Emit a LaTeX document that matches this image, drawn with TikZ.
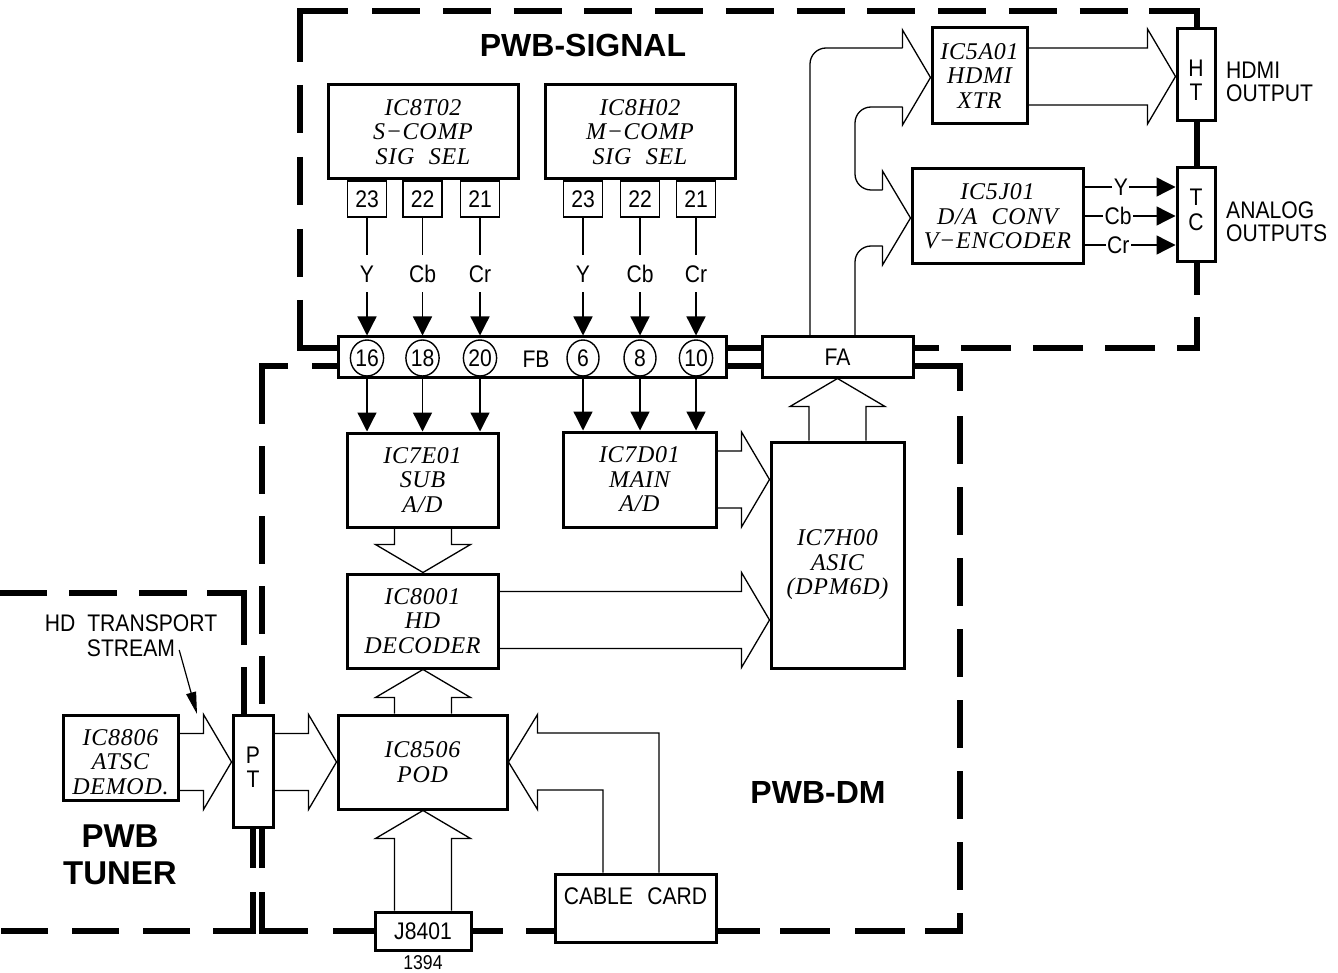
\documentclass[tikz,border=0pt]{standalone}
\usepackage{fontspec}
\setmainfont{Liberation Serif}
\newfontfamily\icf[LetterSpace=3]{Liberation Serif}
\newfontfamily\sxf[FakeStretch=0.88]{Liberation Sans}
\newfontfamily\bsf{Liberation Sans}
\usetikzlibrary{arrows.meta,calc,shapes.geometric}
\tikzset{
 box/.style={draw, line width=3pt, fill=white, inner sep=0pt, align=center, font=\icf\itshape\fontsize{24}{24.5}\selectfont},
 ictext/.style={inner sep=0pt, align=center, font=\icf\itshape\fontsize{24}{24.5}\selectfont},
 sx/.style={inner sep=0pt, align=center, font=\sxf\fontsize{24}{24.5}\selectfont},
 pinbox/.style={draw, line width=1.5pt, fill=white, minimum width=39pt, minimum height=36pt, sx},
 conbox/.style={draw, line width=3pt, fill=white, sx},
 pinc/.style={draw, ellipse, line width=1.4pt, fill=white, minimum width=32pt, minimum height=36pt, sx},
 bold/.style={inner sep=0pt, align=center, font=\bsf\bfseries\fontsize{32}{37}\selectfont},
 barr/.style={line width=1.3pt, line join=miter},
 sig/.style={line width=1.3pt, -{Triangle[length=19pt,width=19pt]}},
 lbl/.style={fill=white, sx, inner xsep=2pt, inner ysep=10pt, text height=17pt, text depth=0pt},
 lblr/.style={fill=white, sx, inner xsep=1.5pt, inner ysep=1pt, text height=17pt, text depth=0pt},
 border/.style={line width=5.5pt, dash pattern=on 48pt off 22pt},
 bsolid/.style={line width=5.5pt},
}
\newcommand\barR[3]{\draw[barr] (#1 |- 0,#3-28.5) -- ($(#2 |- 0,#3)+(-28,-28.5)$) -- ($(#2 |- 0,#3)+(-28,-47.5)$) -- (#2 |- 0,#3) -- ($(#2 |- 0,#3)+(-28,47.5)$) -- ($(#2 |- 0,#3)+(-28,28.5)$) -- (#1 |- 0,#3+28.5);}
\newcommand\barU[3]{\draw[barr] (#3-28.5,0 |- #1) -- ($(#3,0 |- #2)+(-28.5,28)$) -- ($(#3,0 |- #2)+(-47.5,28)$) -- (#3,0 |- #2) -- ($(#3,0 |- #2)+(47.5,28)$) -- ($(#3,0 |- #2)+(28.5,28)$) -- (#3+28.5,0 |- #1);}
\newcommand\barD[3]{\draw[barr] (#3-28.5,0 |- #1) -- ($(#3,0 |- #2)+(-28.5,-28)$) -- ($(#3,0 |- #2)+(-47.5,-28)$) -- (#3,0 |- #2) -- ($(#3,0 |- #2)+(47.5,-28)$) -- ($(#3,0 |- #2)+(28.5,-28)$) -- (#3+28.5,0 |- #1);}
\begin{document}
\begin{tikzpicture}[x=1pt,y=-1pt]
\fill[white] (0,0) rectangle (1338,973);
\useasboundingbox (0,0) rectangle (1338,973);

% ---------- PWB-SIGNAL border ----------
\draw[bsolid] (300,62) -- (300,11) -- (348,11);
\draw[border, dash pattern=on 48pt off 22.75pt] (372,11) -- (1148,11);
\draw[bsolid] (1149,11) -- (1197,11) -- (1197,30);
\draw[border, dash pattern=on 48pt off 24pt] (300,85) -- (300,300);
\draw[bsolid] (300,300) -- (300,348) -- (338,348);
\draw[bsolid] (1197,120) -- (1197,169);
\draw[bsolid] (1197,261) -- (1197,295);
\draw[bsolid] (1197,317) -- (1197,348) -- (1177,348);
\draw[border, dash pattern=on 50pt off 22pt] (1155,348) -- (913,348);
\draw[bsolid] (726,348) -- (762,348);
\draw[bsolid] (726,366) -- (762,366);
% ---------- PWB-DM border ----------
\draw[bsolid] (338,366) -- (312,366);
\draw[bsolid] (288,366) -- (262,366) -- (262,424);
\draw[border] (262,446) -- (262,716);
\draw[bsolid] (262,826) -- (262,868);
\draw[bsolid] (262,892) -- (262,931) -- (308,931);
\draw[bsolid] (333,931) -- (376,931);
\draw[bsolid] (470,931) -- (503,931);
\draw[bsolid] (526,931) -- (556,931);
\draw[bsolid] (715,931) -- (760,931);
\draw[bsolid] (780,931) -- (830,931);
\draw[bsolid] (855,931) -- (905,931);
\draw[bsolid] (925,931) -- (960,931) -- (960,913);
\draw[border, dash pattern=on 48pt off 23pt] (960,416) -- (960,890);
\draw[bsolid] (912,366) -- (960,366) -- (960,391);
% ---------- PWB TUNER border ----------
\draw[bsolid] (244,645) -- (244,593) -- (207,593);
\draw[bsolid] (244,667) -- (244,716);
\draw[border] (187,593) -- (-30,593);
\draw[bsolid] (253,826) -- (253,868);
\draw[bsolid] (253,892) -- (253,931) -- (213,931);
\draw[border, dash pattern=on 47pt off 24pt] (190,931) -- (-30,931);

% ---------- titles ----------
\node[bold] (tsig) at (583,45) {PWB-SIGNAL};
\node[bold] (tdm) at (818,792) {PWB-DM};
\node[bold, font=\bsf\bfseries\fontsize{33}{37}\selectfont] (ttun) at (120,855) {PWB\\TUNER};

% ---------- signal board ----------
\node[box, minimum width=190pt, minimum height=94pt] (IC8T02) at (423,132) {IC8T02\\S−COMP\\SIG\hspace{0.6em}SEL};
\node[box, minimum width=190pt, minimum height=94pt] (IC8H02) at (640,132) {IC8H02\\M−COMP\\SIG\hspace{0.6em}SEL};
\node[pinbox] (pa1) at (367,199) {23};
\node[pinbox] (pa2) at (422.5,199) {22};
\node[pinbox] (pa3) at (480,199) {21};
\node[pinbox] (pb1) at (583,199) {23};
\node[pinbox] (pb2) at (640,199) {22};
\node[pinbox] (pb3) at (696,199) {21};

\node[conbox, minimum width=388pt, minimum height=40pt] (FB) at (532,357) {};
\node[sx] (FBt) at (536,359) {FB};
\node[pinc] (c16) at (367,358) {16};
\node[pinc] (c18) at (422.5,358) {18};
\node[pinc] (c20) at (480,358) {20};
\node[pinc] (c6) at (583,358) {6};
\node[pinc] (c8) at (640,358) {8};
\node[pinc] (c10) at (696,358) {10};
\node[conbox, minimum width=151pt, minimum height=40pt] (FA) at (837.5,357) {FA};

\node[box, minimum width=95pt, minimum height=96pt] (IC5A01) at (979.5,76) {IC5A01\\HDMI\\XTR};
\node[box, minimum width=171pt, minimum height=95pt] (IC5J01) at (997.5,216.5) {IC5J01\\D/A\hspace{0.6em}CONV\\V−ENCODER};
\node[conbox, minimum width=38pt, minimum height=92pt] (HT) at (1196,75) {};
\node[sx] (HTt) at (1196,80) {H\\T};
\node[conbox, minimum width=38pt, minimum height=94pt] (TC) at (1196,215) {};
\node[sx] (TCt) at (1196,210) {T\\C};
\node[sx, align=left, anchor=west, font=\sxf\fontsize{24}{22.5}\selectfont] (hdo) at (1226,82) {HDMI\\OUTPUT};
\node[sx, align=left, anchor=west, font=\sxf\fontsize{24}{23}\selectfont] (ano) at (1226,221.5) {ANALOG\\OUTPUTS};

% ---------- DM board ----------
\node[box, minimum width=151pt, minimum height=94pt] (IC7E01) at (422.5,480) {IC7E01\\SUB\\A/D};
\node[box, minimum width=153pt, minimum height=95pt] (IC7D01) at (639.5,479.5) {IC7D01\\MAIN\\A/D};
\node[box, minimum width=133pt, minimum height=226pt] (ASIC) at (837.5,555) {};
\node[ictext] (ASICt) at (837.5,565) {IC7H00\\ASIC\\(DPM6D)};
\node[box, minimum width=151pt, minimum height=94pt] (IC8001) at (422.5,621) {IC8001\\HD\\DECODER};
\node[box, minimum width=169pt, minimum height=94pt] (IC8506) at (422.5,762) {IC8506\\POD};
\node[conbox, minimum width=96pt, minimum height=38pt] (J8401) at (423,931) {J8401};
\node[sx, anchor=north, font=\sxf\fontsize{20}{20}\selectfont] (n1394) at (423,955) {1394};
\node[conbox, minimum width=161pt, minimum height=68pt] (CABLE) at (635.5,908) {};
\node[sx] (CABLEt) at (635.5,896) {CABLE\hspace{0.6em}CARD};

% ---------- tuner ----------
\node[box, minimum width=115pt, minimum height=85pt] (IC8806) at (120.5,757.5) {};
\node[ictext] (IC8806t) at (120.5,762) {IC8806\\ATSC\\DEMOD.};
\node[conbox, minimum width=40pt, minimum height=112pt] (PT) at (253,771) {};
\node[sx] (PTt) at (253,767) {P\\T};
\node[sx] (hdt) at (131,623) {HD\hspace{0.5em}TRANSPORT};
\node[sx] (hds) at (131,648) {STREAM};
\coordinate (hdtip) at (197,714);
\draw[line width=1.2pt, -{Triangle[length=22pt,width=10pt]}] ($(hds.east)+(4,2)$) -- (hdtip);

% ---------- Y/Cb/Cr connectors ----------
\draw[sig] (pa1.south) -- node[lbl,pos=0.475]{Y} (pa1.south |- FB.north);
\draw[sig] (pa2.south) -- node[lbl,pos=0.475]{Cb} (pa2.south |- FB.north);
\draw[sig] (pa3.south) -- node[lbl,pos=0.475]{Cr} (pa3.south |- FB.north);
\draw[sig] (pb1.south) -- node[lbl,pos=0.475]{Y} (pb1.south |- FB.north);
\draw[sig] (pb2.south) -- node[lbl,pos=0.475]{Cb} (pb2.south |- FB.north);
\draw[sig] (pb3.south) -- node[lbl,pos=0.475]{Cr} (pb3.south |- FB.north);
\draw[sig] (c16 |- FB.south) -- (c16 |- IC7E01.north);
\draw[sig] (c18 |- FB.south) -- (c18 |- IC7E01.north);
\draw[sig] (c20 |- FB.south) -- (c20 |- IC7E01.north);
\draw[sig] (c6 |- FB.south) -- (c6 |- IC7D01.north);
\draw[sig] (c8 |- FB.south) -- (c8 |- IC7D01.north);
\draw[sig] (c10 |- FB.south) -- (c10 |- IC7D01.north);

\draw[sig] (IC5J01.east |- 0,187) -- node[lblr,pos=0.40]{Y} (TC.west |- 0,187);
\draw[sig] (IC5J01.east |- 0,216) -- node[lblr,pos=0.37]{Cb} (TC.west |- 0,216);
\draw[sig] (IC5J01.east |- 0,245) -- node[lblr,pos=0.37]{Cr} (TC.west |- 0,245);

% ---------- block arrows ----------
\barR{IC8806.east}{PT.west}{762}
\barR{PT.east}{IC8506.west}{762}
\barU{J8401.north}{IC8506.south}{423}
\barU{IC8506.north}{IC8001.south}{423}
\barD{IC7E01.south}{IC8001.north}{423}
\barR{IC7D01.east}{ASIC.west}{479.5}
\barR{IC8001.east}{ASIC.west}{620}
\barU{ASIC.north}{FA.south}{837.5}
\barR{IC5A01.east}{HT.west}{76.5}

% cable card -> POD
\coordinate (tP) at (IC8506.east |- 0,762);
\draw[barr] (CABLE.north -| 659,0) -- (659,733) -- ($(tP)+(29,-29)$) -- ($(tP)+(29,-47.5)$) -- (tP) -- ($(tP)+(29,47.5)$) -- ($(tP)+(29,28)$) -- (603,790) -- (CABLE.north -| 603,0);

% FA -> HDMI XTR and D/A
\coordinate (tA) at (IC5A01.west |- 0,77.5);
\coordinate (tB) at (IC5J01.west |- 0,218);
\draw[barr] ($(tA)+(-28,-29.5)$) -- ($(tA)+(-28,-47.5)$) -- (tA) -- ($(tA)+(-28,47.5)$) -- ($(tA)+(-28,29.5)$);
\draw[barr] ($(tB)+(-28,-28)$) -- ($(tB)+(-28,-47)$) -- (tB) -- ($(tB)+(-28,47)$) -- ($(tB)+(-28,28)$);
\draw[barr, rounded corners=16pt] (FA.north -| 810,0) -- (810,48) -- ($(tA)+(-28,-29.5)$);
\draw[barr, rounded corners=16pt] ($(tA)+(-28,29.5)$) -- (855,107) -- (855,190) -- ($(tB)+(-28,-28)$);
\draw[barr, rounded corners=16pt] ($(tB)+(-28,28)$) -- (855,246) -- (FA.north -| 855,0);
\end{tikzpicture}
\end{document}
